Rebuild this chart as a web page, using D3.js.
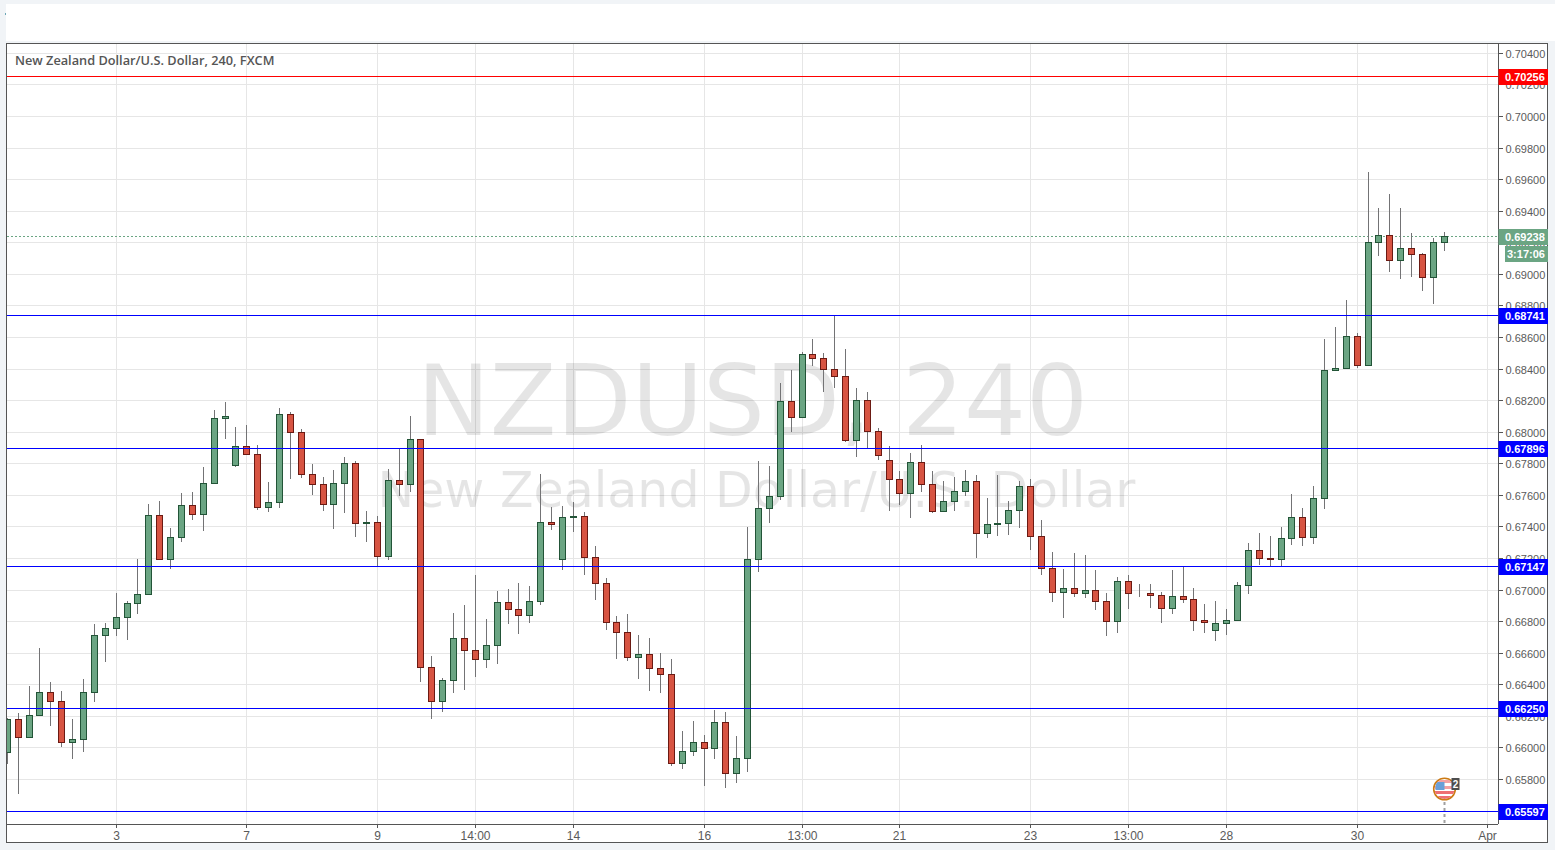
<!DOCTYPE html>
<html>
<head>
<meta charset="utf-8">
<style>
html,body{margin:0;padding:0;background:#f1f4f7;overflow:hidden}
svg{display:block}
text{font-family:"Liberation Sans",Arial,sans-serif}
</style>
<script src="https://cdnjs.cloudflare.com/ajax/libs/d3/7.8.5/d3.min.js"></script>
</head>
<body>
<svg id="c" width="1555" height="850"></svg>
<script>
const titleText = "New Zealand Dollar/U.S. Dollar, 240, FXCM";
const watermarkTop = "NZDUSD, 240";
const watermarkBottom = "New Zealand Dollar/U.S. Dollar";
const opens = [.65968,.66183,.66063,.66208,.66348,.66291,.66037,.66056,.66354,.66715,.66759,.66829,.66917,.66974,.67475,.67196,.67335,.67538,.67481,.67677,.68089,.67791,.67911,.67861,.67525,.67557,.68114,.68000,.67734,.67671,.67544,.67677,.67804,.67424,.67430,.67215,.67696,.67671,.67956,.66512,.66291,.66430,.66696,.66620,.66563,.66651,.66924,.66879,.66841,.66930,.67430,.67196,.67462,.67468,.67209,.67044,.66797,.66734,.66575,.66594,.66500,.66468,.65904,.65980,.66037,.65999,.66164,.65841,.65936,.67196,.67519,.67595,.68196,.68095,.68494,.68469,.68399,.68355,.67949,.68203,.68006,.67823,.67703,.67614,.67810,.67671,.67500,.67563,.67627,.67690,.67361,.67418,.67424,.67506,.67658,.67342,.67139,.66987,.67012,.66981,.67000,.66930,.66803,.67057,.66983,.66981,.66968,.66886,.66962,.66943,.66810,.66747,.66791,.66810,.67031,.67253,.67202,.67196,.67329,.67462,.67335,.67582,.68393,.68405,.68608,.68424,.69203,.69248,.69089,.69165,.69127,.68982,.69203];
const highs = [.66189,.66221,.66387,.66628,.66413,.66356,.66177,.66432,.66780,.66786,.66976,.66930,.67192,.67540,.67559,.67388,.67610,.67616,.67774,.68135,.68186,.68027,.68040,.67913,.67679,.68148,.68122,.68015,.67793,.67711,.67755,.67837,.67812,.67495,.67464,.67761,.67888,.68097,.67956,.66577,.66438,.66850,.66900,.67090,.66812,.66989,.67002,.67040,.67021,.67730,.67521,.67527,.67553,.67489,.67274,.67071,.66831,.66843,.66710,.66691,.66596,.66558,.66102,.66166,.66077,.66235,.66223,.66071,.67394,.67812,.67780,.68306,.68388,.68507,.68585,.68496,.68738,.68521,.68274,.68249,.68021,.67907,.67749,.67863,.67913,.67749,.67685,.67711,.67755,.67723,.67578,.67723,.67559,.67685,.67698,.67439,.67236,.67128,.67230,.67217,.67122,.66976,.67078,.67090,.67033,.67033,.66983,.67122,.67152,.67008,.66907,.66926,.66875,.67046,.67297,.67356,.67337,.67394,.67603,.67514,.67654,.68585,.68661,.68832,.68623,.69648,.69420,.69503,.69414,.69256,.69134,.69224,.69268];
const lows = [.65904,.65714,.66063,.66208,.66145,.66009,.65936,.65978,.66294,.66548,.66712,.66690,.66854,.66974,.67196,.67137,.67308,.67447,.67377,.67677,.67960,.67782,.67861,.67513,.67497,.67525,.67706,.67713,.67605,.67506,.67392,.67491,.67339,.67308,.67155,.67194,.67599,.67624,.66421,.66189,.66231,.66351,.66370,.66453,.66510,.66535,.66788,.66725,.66795,.66909,.67384,.67130,.67371,.67098,.66940,.66750,.66567,.66554,.66440,.66364,.66351,.65889,.65870,.65952,.65762,.65933,.65750,.65781,.65851,.67117,.67428,.67573,.68004,.68095,.68422,.68257,.68283,.67939,.67846,.67899,.67827,.67504,.67542,.67459,.67624,.67491,.67500,.67504,.67599,.67206,.67333,.67346,.67352,.67396,.67257,.67098,.66928,.66826,.66959,.66953,.66877,.66712,.66731,.66883,.66959,.66892,.66797,.66854,.66921,.66747,.66734,.66683,.66719,.66810,.66981,.67162,.67152,.67152,.67288,.67282,.67295,.67516,.68393,.68405,.68412,.68424,.69118,.69017,.68973,.68985,.68897,.68815,.69150];
const closes = [.66183,.66063,.66208,.66348,.66291,.66037,.66056,.66354,.66715,.66759,.66829,.66917,.66974,.67475,.67196,.67335,.67538,.67481,.67677,.68089,.68101,.67911,.67861,.67525,.67557,.68114,.68000,.67734,.67671,.67544,.67677,.67804,.67424,.67430,.67215,.67696,.67671,.67956,.66512,.66291,.66430,.66696,.66620,.66563,.66651,.66924,.66879,.66841,.66930,.67430,.67418,.67462,.67468,.67209,.67044,.66797,.66734,.66575,.66594,.66500,.66468,.65904,.65980,.66037,.65999,.66164,.65841,.65936,.67196,.67519,.67595,.68196,.68095,.68494,.68469,.68399,.68355,.67949,.68203,.68006,.67855,.67703,.67614,.67810,.67671,.67500,.67563,.67627,.67690,.67361,.67418,.67424,.67506,.67658,.67342,.67139,.66987,.67012,.66981,.67000,.66930,.66803,.67057,.66981,.66983,.66968,.66886,.66962,.66943,.66810,.66797,.66791,.66810,.67031,.67253,.67202,.67196,.67329,.67462,.67335,.67582,.68393,.68405,.68608,.68424,.69203,.69248,.69089,.69165,.69127,.68982,.69203,.69238];
const priceTicks = [.704,.702,.700,.698,.696,.694,.692,.690,.688,.686,.684,.682,.680,.678,.676,.674,.672,.670,.668,.666,.664,.662,.660,.658];
const timeTickIndex = [10,22,34,43,52,64,73,82,94,103,112,124,136];
const timeTickLabels = ["3","7","9","14:00","14","16","13:00","21","23","13:00","28","30","Apr"];
const blueLevels = [.68741,.67896,.67147,.66250,.65597];
const redLevels = [.70256];
const lastPrice = .69238;
const countdown = "3:17:06";
const eventIndex = 132;
const eventCount = "2";

const colors = {up:"#6ba583",down:"#d75442",upB:"#225437",downB:"#6b1a13",wick:"#737375",grid:"#e6e6e6",axis:"#555",text:"#5a5a5a"};
const pane = {l:7,r:1498,t:44,b:824};
const svg = d3.select("#c");
const x = d3.scaleLinear().domain([0,132]).range([7.3,1444.3]);
const y = d3.scaleLinear().domain([.704,.658]).range([53.35,779.5]);
const snapX = v => Math.floor(x(v))+.5;
const snapY = v => Math.floor(y(v))+.5;

// page frame
svg.append("rect").attr("x",6).attr("y",4).attr("width",1549).attr("height",37).attr("fill","#fff");
svg.append("rect").attr("x",5).attr("y",13).attr("width",1).attr("height",2).attr("fill","#6aa6b5");
svg.append("rect").attr("x",6.5).attr("y",43.5).attr("width",1541).attr("height",799).attr("fill","#fff").attr("stroke",colors.axis).attr("shape-rendering","crispEdges");

svg.append("clipPath").attr("id","pane").append("rect").attr("x",pane.l).attr("y",pane.t).attr("width",pane.r-pane.l).attr("height",pane.b-pane.t);
const plot = svg.append("g").attr("clip-path","url(#pane)");

// grid
const yAxisGrid = d3.axisLeft(y).tickValues(priceTicks).tickSize(pane.r-pane.l).tickFormat("").tickSizeOuter(0);
const gy = plot.append("g").attr("transform",`translate(${pane.r},0)`).call(yAxisGrid);
gy.select(".domain").remove();
gy.selectAll(".tick").attr("transform",d=>`translate(0,${snapY(d)})`).select("line").attr("stroke",colors.grid).attr("shape-rendering","crispEdges");
const xAxisGrid = d3.axisBottom(x).tickValues(timeTickIndex).tickSize(pane.b-pane.t).tickFormat("").tickSizeOuter(0);
const gx = plot.append("g").attr("transform",`translate(0,${pane.t})`).call(xAxisGrid);
gx.select(".domain").remove();
gx.selectAll(".tick").attr("transform",d=>`translate(${snapX(d)},0)`).select("line").attr("stroke",colors.grid).attr("shape-rendering","crispEdges");

// watermark
plot.append("text").attr("x",752.5).attr("y",435).attr("text-anchor","middle").attr("font-size",97.5)
  .style("font-family","'DejaVu Sans'").attr("fill","#000").attr("fill-opacity",.1).text(watermarkTop);
plot.append("text").attr("x",756.5).attr("y",507).attr("text-anchor","middle").attr("font-size",49)
  .style("font-family","'DejaVu Sans'").attr("fill","#000").attr("fill-opacity",.1).text(watermarkBottom);

// last price dotted line
plot.append("line").attr("x1",pane.l).attr("x2",pane.r).attr("y1",snapY(lastPrice)).attr("y2",snapY(lastPrice))
  .attr("stroke",colors.up).attr("stroke-dasharray","2,2").attr("shape-rendering","crispEdges");

// candles
const candles = d3.range(opens.length).map(i=>({i,o:opens[i],h:highs[i],l:lows[i],c:closes[i]}));
const g = plot.append("g").selectAll("g").data(candles).join("g");
g.append("line").attr("x1",d=>snapX(d.i)).attr("x2",d=>snapX(d.i))
  .attr("y1",d=>Math.floor(y(d.h))).attr("y2",d=>Math.floor(y(d.l))+1)
  .attr("stroke",colors.wick).attr("shape-rendering","crispEdges");
g.append("rect").attr("x",d=>snapX(d.i)-3).attr("width",6)
  .attr("y",d=>snapY(Math.max(d.o,d.c)))
  .attr("height",d=>Math.max(snapY(Math.min(d.o,d.c))-snapY(Math.max(d.o,d.c)),0))
  .attr("fill",d=>d.c>=d.o?colors.up:colors.down)
  .attr("stroke",d=>d.c>=d.o?colors.upB:colors.downB)
  .attr("shape-rendering","crispEdges");

// level lines
const levels = blueLevels.map(v=>({v,col:"#0000ff"})).concat(redLevels.map(v=>({v,col:"#ff0000"})));
plot.selectAll(".lvl").data(levels).join("line").attr("class","lvl")
  .attr("x1",pane.l).attr("x2",pane.r).attr("y1",d=>snapY(d.v)).attr("y2",d=>snapY(d.v))
  .attr("stroke",d=>d.col).attr("shape-rendering","crispEdges");

// event marker
const ex = snapX(eventIndex), ey = 789;
plot.append("line").attr("x1",ex).attr("x2",ex).attr("y1",ey+13).attr("y2",pane.b)
  .attr("stroke","#a0a0a0").attr("stroke-width",2).attr("stroke-dasharray","3,3");
const ev = plot.append("g").attr("transform",`translate(${ex},${ey})`);
svg.append("clipPath").attr("id","flag").append("circle").attr("cx",ex).attr("cy",ey).attr("r",10);
ev.append("circle").attr("r",10.5).attr("fill","#fff");
const fl = plot.append("g").attr("clip-path","url(#flag)");
[[-9,"#f4a0a2"],[-3,"#f4a0a2"],[2,"#ee6f73"],[7,"#ee6f73"]].forEach(s=>fl.append("rect").attr("x",ex-11).attr("y",ey+s[0]).attr("width",22).attr("height",3).attr("fill",s[1]));
fl.append("rect").attr("x",ex-9).attr("y",ey-7).attr("width",9).attr("height",8).attr("fill","#6a9fd8");
ev.append("circle").attr("r",10.8).attr("fill","none").attr("stroke","#cc7a14").attr("stroke-width",1.6);
plot.append("rect").attr("x",ex+7).attr("y",ey-11).attr("width",8).attr("height",12).attr("fill","#4d4d4d");
plot.append("text").attr("x",ex+11).attr("y",ey-1.5).attr("text-anchor","middle").attr("font-size",10).attr("font-weight","bold").attr("fill","#fff").text(eventCount);

// title
svg.append("text").attr("x",15).attr("y",65).attr("font-size",12.75).attr("font-weight",600)
  .style("font-family","'Open Sans'").attr("fill","#555").text(titleText);

// price axis
svg.append("line").attr("x1",pane.r+.5).attr("x2",pane.r+.5).attr("y1",pane.t).attr("y2",pane.b).attr("stroke",colors.axis).attr("shape-rendering","crispEdges");
const yAxis = d3.axisRight(y).tickValues(priceTicks).tickSize(4).tickPadding(3).tickFormat(d3.format(".5f")).tickSizeOuter(0);
const ya = svg.append("g").attr("transform",`translate(${pane.r+.5},0)`).call(yAxis);
ya.select(".domain").remove();
ya.selectAll(".tick").attr("transform",d=>`translate(0,${snapY(d)})`);
ya.selectAll("line").attr("stroke",colors.axis).attr("shape-rendering","crispEdges");
ya.selectAll("text").attr("fill",colors.text).attr("dy","0.42em").style("font-size","11px").style("font-family","'Liberation Sans'");

// time axis
svg.append("line").attr("x1",pane.l).attr("x2",pane.r).attr("y1",pane.b+.5).attr("y2",pane.b+.5).attr("stroke",colors.axis).attr("shape-rendering","crispEdges");
const xAxis = d3.axisBottom(x).tickValues(timeTickIndex).tickSize(4).tickPadding(3).tickFormat((d,i)=>timeTickLabels[i]).tickSizeOuter(0);
const xa = svg.append("g").attr("transform",`translate(0,${pane.b})`).call(xAxis);
xa.select(".domain").remove();
xa.selectAll(".tick").attr("transform",d=>`translate(${snapX(d)},0)`);
xa.selectAll("line").attr("stroke",colors.axis).attr("shape-rendering","crispEdges");
xa.selectAll("text").attr("fill",colors.text).style("font-size","12px").style("font-family","'Liberation Sans'");

// price labels
function tag(col,yy,h,x0,label){
  svg.append("rect").attr("x",x0).attr("y",yy).attr("width",1548-x0).attr("height",h).attr("fill",col);
  svg.append("text").attr("x",1505).attr("y",yy+h/2+4).attr("font-size",11).attr("font-weight","bold").attr("fill","#fff").text(label);
}
levels.forEach(d=>tag(d.col,Math.floor(y(d.v))-7,16,1498.5,d3.format(".5f")(d.v)));
tag(colors.up,Math.floor(y(lastPrice))-7,16,1498.5,d3.format(".5f")(lastPrice));
svg.append("rect").attr("x",1505).attr("y",246).attr("width",43).attr("height",16).attr("fill",colors.up);
svg.append("text").attr("x",1507).attr("y",258).attr("font-size",11).attr("font-weight","bold").attr("fill","#fff").text(countdown);
</script>
</body>
</html>
